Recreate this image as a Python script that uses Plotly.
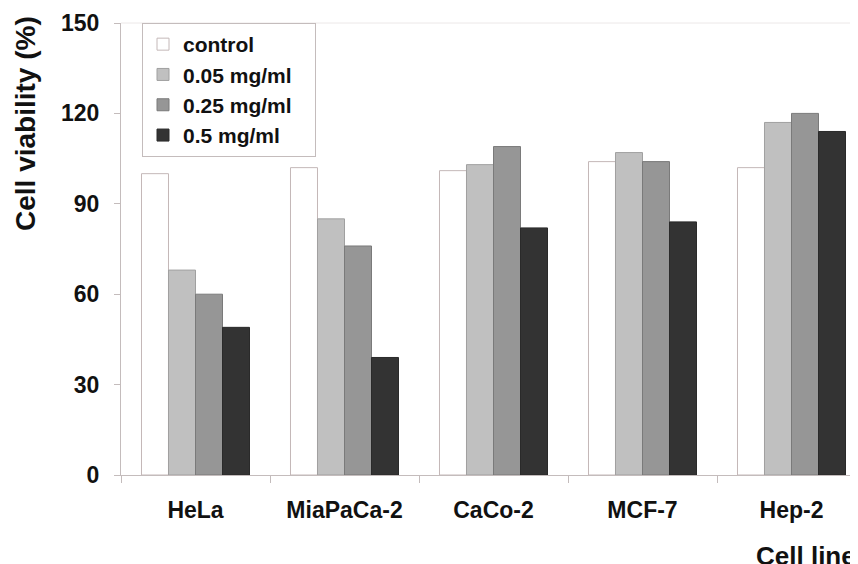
import plotly.graph_objects as go

categories = ["HeLa", "MiaPaCa-2", "CaCo-2", "MCF-7", "Hep-2"]
series_names = ["control", "0.05 mg/ml", "0.25 mg/ml", "0.5 mg/ml"]
control = [100, 102, 101, 104, 102]
dose_005 = [68, 85, 103, 107, 117]
dose_025 = [60, 76, 109, 104, 120]
dose_05 = [49, 39, 82, 84, 114]
y_ticks = [0, 30, 60, 90, 120, 150]

fills = ["#ffffff", "#c0c0c0", "#969696", "#333333"]
outlines = ["#c4b8b8", "#a0a0a0", "#7a7a7a", "#2a2a2a"]

OFF = 8  # page body margin offset
W, H = 858, 564
L, R, T, B = 121 - OFF, 0, 23 - OFF, H - (475 - OFF)
PW = W - L - R
PH = H - T - B

PADDING = "\u00a0\u00a0\u00a0"

fig = go.Figure()
for name, vals, fc, lc in zip(series_names, [control, dose_005, dose_025, dose_05], fills, outlines):
    fig.add_trace(go.Bar(
        x=categories, y=vals, name=name + PADDING,
        marker=dict(color=fc, line=dict(color=lc, width=1)),
    ))

font_family = "Liberation Sans, Arial, sans-serif"
axis_col = "#c4bcbc"

def px_x(p):
    return (p - OFF - L) / PW

def px_y(p):
    return (H - B - (p - OFF)) / PH

fig.update_layout(
    width=W, height=H,
    margin=dict(l=L, r=R, t=T, b=B, pad=0),
    paper_bgcolor="white", plot_bgcolor="white",
    barmode="group", bargap=0.275, bargroupgap=0,
    font=dict(family=font_family, size=21, color="#111111"),
    showlegend=True,
    legend=dict(
        x=px_x(142), y=px_y(23),
        xanchor="left", yanchor="top",
        bgcolor="white", bordercolor=axis_col, borderwidth=1,
        font=dict(family=font_family, size=21, color="#111111", weight="bold"),
        itemwidth=30, tracegroupgap=0,
    ),
    xaxis=dict(
        type="category", range=[-0.5, 4.5],
        showline=True, linecolor=axis_col, linewidth=1,
        ticks="outside", tickson="boundaries", ticklen=7, tickcolor=axis_col,
        tickfont=dict(family=font_family, size=23, color="#111111", weight="bold"),
        ticklabelstandoff=14,
        showgrid=False, zeroline=False,
    ),
    yaxis=dict(
        range=[0, 150], tickvals=y_ticks, ticktext=[str(v) for v in y_ticks],
        showline=True, linecolor=axis_col, linewidth=1,
        ticks="outside", ticklen=6, tickcolor=axis_col,
        tickfont=dict(family=font_family, size=23, color="#111111", weight="bold"),
        ticklabelstandoff=10,
        showgrid=False, zeroline=False,
    ),
    shapes=[dict(type="line", xref="paper", yref="paper", x0=0, x1=1, y0=1, y1=1,
                 line=dict(color="#ece8e8", width=1))],
    annotations=[
        dict(text="<b>Cell viability (%)</b>", textangle=-90,
             xref="paper", yref="paper",
             x=px_x(25), y=px_y(123),
             xanchor="center", yanchor="middle", showarrow=False,
             font=dict(family=font_family, size=28, color="#111111")),
        dict(text="<b>Cell lines</b>",
             xref="paper", yref="paper",
             x=px_x(754), y=px_y(539),
             xanchor="left", yanchor="top", showarrow=False,
             font=dict(family=font_family, size=26, color="#111111")),
    ],
)

fig.write_html("out.html")
